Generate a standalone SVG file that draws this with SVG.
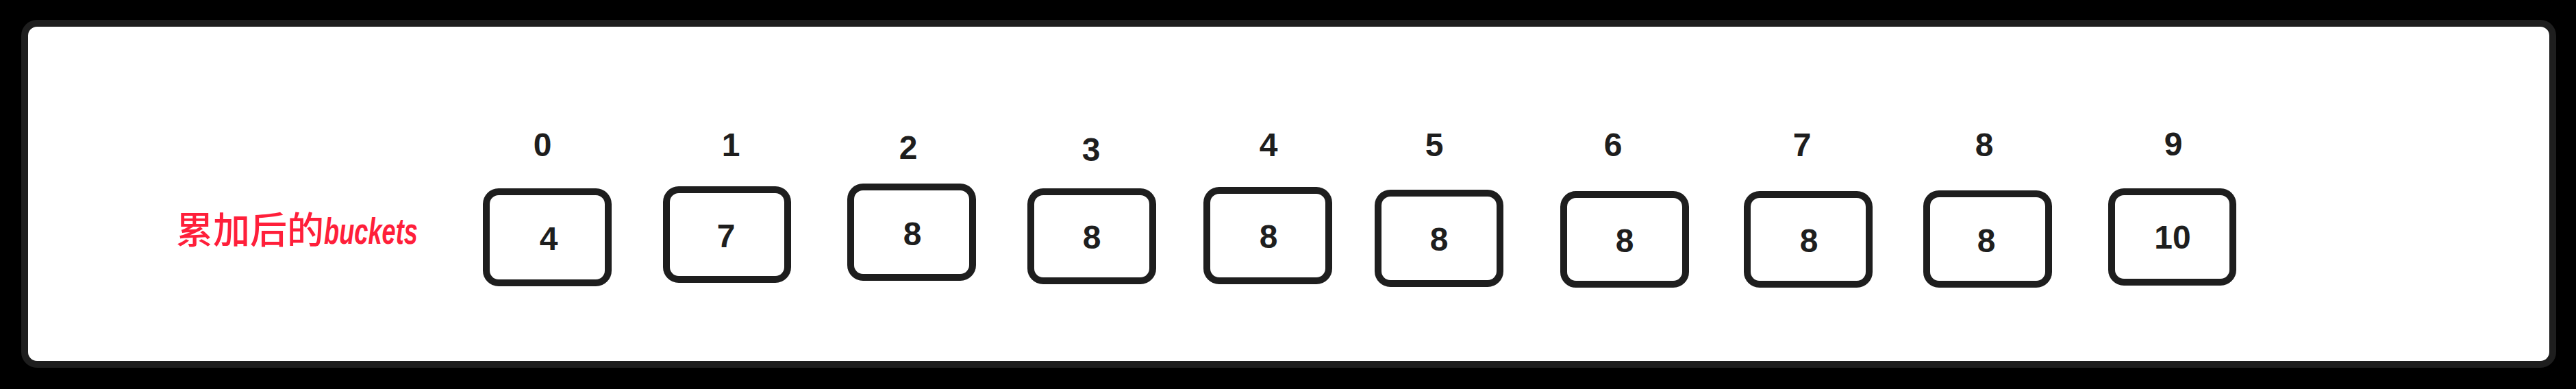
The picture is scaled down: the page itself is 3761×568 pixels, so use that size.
<svg xmlns="http://www.w3.org/2000/svg" width="3761" height="568" viewBox="0 0 3761 568">
<style>
.box{fill:#ffffff;stroke:#1e1e1e;stroke-width:10;stroke-linejoin:round}
.num{font-family:"Liberation Sans","DejaVu Sans",sans-serif;font-size:48px;font-weight:bold;fill:#1e1e1e;text-anchor:middle}
.title{font-family:"Noto Sans CJK SC","Liberation Sans",sans-serif;font-size:54px;font-weight:500;fill:#ff1f3a}
</style>
<rect x="0" y="0" width="3761" height="568" fill="#000000"/>
<rect id="frame" x="36" y="34" width="3691" height="498" rx="18" fill="#ffffff" stroke="#1e1e1e" stroke-width="10"/>
<g id="title"><text class="title" x="257" y="356">累加后的<tspan textLength="137" lengthAdjust="spacingAndGlyphs" font-family="Liberation Sans, sans-serif" font-weight="bold" font-style="italic">buckets</tspan></text></g>
<g id="bucket0"><text class="num" x="792" y="228">0</text><rect class="box" x="710" y="280" width="178" height="133" rx="18"/><text class="num" x="801" y="365">4</text></g>
<g id="bucket1"><text class="num" x="1067" y="228">1</text><rect class="box" x="973" y="277" width="177" height="131" rx="18"/><text class="num" x="1060" y="361">7</text></g>
<g id="bucket2"><text class="num" x="1326" y="232">2</text><rect class="box" x="1242" y="273" width="178" height="132" rx="18"/><text class="num" x="1332" y="358">8</text></g>
<g id="bucket3"><text class="num" x="1593" y="235">3</text><rect class="box" x="1505" y="280" width="178" height="130" rx="18"/><text class="num" x="1594" y="363">8</text></g>
<g id="bucket4"><text class="num" x="1852" y="228">4</text><rect class="box" x="1762" y="278" width="178" height="132" rx="18"/><text class="num" x="1852" y="362">8</text></g>
<g id="bucket5"><text class="num" x="2094" y="228">5</text><rect class="box" x="2012" y="282" width="178" height="132" rx="18"/><text class="num" x="2101" y="366">8</text></g>
<g id="bucket6"><text class="num" x="2355" y="228">6</text><rect class="box" x="2283" y="284" width="178" height="131" rx="18"/><text class="num" x="2372" y="368">8</text></g>
<g id="bucket7"><text class="num" x="2631" y="228">7</text><rect class="box" x="2551" y="284" width="178" height="131" rx="18"/><text class="num" x="2641" y="368">8</text></g>
<g id="bucket8"><text class="num" x="2897" y="228">8</text><rect class="box" x="2813" y="283" width="178" height="132" rx="18"/><text class="num" x="2900" y="368">8</text></g>
<g id="bucket9"><text class="num" x="3173" y="227">9</text><rect class="box" x="3083" y="280" width="177" height="132" rx="18"/><text class="num" x="3172" y="363">10</text></g>
<g id="connectors"></g>
</svg>
